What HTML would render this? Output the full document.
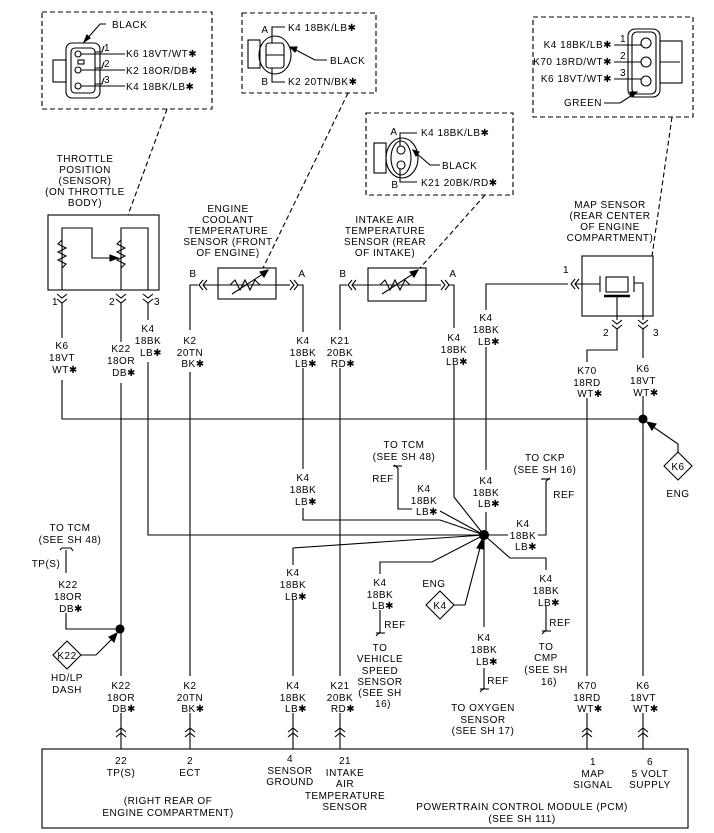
<!DOCTYPE html>
<html><head><meta charset="utf-8"><style>
html,body{margin:0;padding:0;background:#fff}
svg{display:block}
text{font-family:"Liberation Sans",sans-serif;font-size:10px;fill:#000;text-anchor:middle;letter-spacing:0.5px}
.l{text-anchor:start}.r{text-anchor:end}
</style></head><body>
<svg width="714" height="833" viewBox="0 0 714 833" xmlns="http://www.w3.org/2000/svg" fill="none" stroke="#000" stroke-width="1.1">
<g stroke-dasharray="5,3">
<rect x="42" y="12" width="170" height="97"/>
<rect x="242" y="13" width="134" height="80"/>
<rect x="366" y="113" width="147" height="82"/>
<rect x="533" y="17" width="160" height="100"/>
<line x1="167" y1="109" x2="128" y2="215"/>
<line x1="348" y1="93" x2="263" y2="268"/>
<line x1="485" y1="195" x2="420" y2="268"/>
<line x1="672" y1="117" x2="652" y2="256"/>
</g>
<rect x="66" y="43" width="34" height="55" rx="6"/>
<rect x="71" y="48" width="24" height="45" rx="4"/>
<rect x="53" y="60" width="13" height="22"/>
<circle cx="78" cy="54" r="3"/><circle cx="78" cy="70" r="3"/><circle cx="78" cy="86" r="3"/>
<rect x="78" y="60" width="6" height="4"/>
<polyline points="106,24 100,24 86,40"/><polygon points="84,42 87,35 90,38" fill="#000"/>
<line x1="81" y1="54" x2="125" y2="54"/><line x1="81" y1="70" x2="125" y2="70"/><line x1="81" y1="86" x2="125" y2="86"/>
<polyline points="95,52 102,52 104,46"/><polyline points="95,68 102,68 104,62"/><polyline points="95,84 102,84 104,78"/>
<rect x="248" y="40" width="12" height="28"/>
<ellipse cx="275" cy="55" rx="16" ry="19"/>
<rect x="266" y="43" width="18" height="25" rx="3"/>
<line x1="266" y1="55" x2="284" y2="55"/>
<polyline points="272,43 272,27 285,27"/><polyline points="272,68 272,82 285,82"/>
<polyline points="327,60 315,60 292,48"/><polygon points="290,47 297,47 295,52" fill="#000"/>
<rect x="374" y="143" width="12" height="30"/>
<ellipse cx="402" cy="158" rx="16" ry="20"/>
<ellipse cx="401" cy="158" rx="10" ry="17"/>
<circle cx="401" cy="150" r="4"/><circle cx="401" cy="165" r="4"/>
<polyline points="400,146 400,133 417,133"/><polyline points="400,169 400,182 417,182"/>
<polyline points="440,165 430,165 415,152"/><polygon points="413,150 419,152 416,156" fill="#000"/>
<rect x="628" y="29" width="32" height="68" rx="7"/>
<rect x="632" y="32" width="24" height="62" rx="5"/>
<rect x="660" y="41" width="22" height="42"/>
<line x1="660" y1="62" x2="680" y2="62"/>
<circle cx="646" cy="43" r="5"/><circle cx="646" cy="62" r="5"/><circle cx="646" cy="81" r="5"/>
<line x1="614" y1="45" x2="641" y2="45"/><line x1="614" y1="62" x2="641" y2="62"/><line x1="614" y1="79" x2="641" y2="79"/>
<polyline points="604,103 620,103 634,94"/><polygon points="637,92 630,92 632,97" fill="#000"/>

<rect x="48" y="215" width="111" height="75"/>
<polyline points="62,290 62,228 92,228 92,258 112,258"/>
<polygon points="118,258 110,255 110,261" fill="#000"/>
<polyline points="62,240 58,244 66,248 58,252 66,256 58,260 66,264 62,268"/>
<polyline points="121,240 117,244 125,248 117,252 125,256 117,260 125,264 121,268"/>
<polyline points="121,290 121,228 148,228 148,290"/>
<g>
<polyline points="57,294 62,298 67,294"/><polyline points="57,299 62,303 67,299"/>
<polyline points="116,294 121,298 126,294"/><polyline points="116,299 121,303 126,299"/>
<polyline points="143,294 148,298 153,294"/><polyline points="143,299 148,303 153,299"/>
</g>
<rect x="218" y="268" width="58" height="31"/>
<polyline points="190,330 190,285 198,285"/><polyline points="203,280 199,285 203,290"/><polyline points="207,280 203,285 207,290"/>
<line x1="203" y1="285" x2="276" y2="285"/>
<polyline points="230,285 235,280 240,290 245,280 250,290 255,280 260,285"/>
<line x1="232" y1="294" x2="266" y2="272"/><polygon points="268,270 260,272 264,277" fill="#000"/>
<line x1="276" y1="285" x2="290" y2="285"/><polyline points="290,280 294,285 290,290"/><polyline points="294,280 298,285 294,290"/>
<polyline points="298,285 303,285 303,332"/>
<rect x="368" y="268" width="58" height="33"/>
<polyline points="340,330 340,285 347,285"/><polyline points="352,280 348,285 352,290"/><polyline points="356,280 352,285 356,290"/>
<line x1="352" y1="285" x2="426" y2="285"/>
<polyline points="380,285 385,280 390,290 395,280 400,290 405,280 410,285"/>
<line x1="382" y1="294" x2="416" y2="272"/><polygon points="418,270 410,272 414,277" fill="#000"/>
<line x1="426" y1="285" x2="441" y2="285"/><polyline points="441,280 445,285 441,290"/><polyline points="445,280 449,285 445,290"/>
<polyline points="449,285 454,285 454,328"/>
<rect x="582" y="256" width="71" height="60"/>
<polyline points="486,310 486,284 568,284"/><polyline points="575,279 571,284 575,289"/><polyline points="579,279 575,284 579,289"/>
<line x1="575" y1="284" x2="600" y2="284"/>
<line x1="600" y1="276" x2="600" y2="292"/>
<rect x="606" y="277" width="22" height="15"/>
<line x1="604" y1="296" x2="630" y2="296" stroke-width="2.5"/>
<line x1="634" y1="276" x2="634" y2="292"/>
<polyline points="634,283 643,283 643,320"/>
<polyline points="617,296 617,320"/>
<polyline points="612,320 617,324 622,320"/><polyline points="612,325 617,329 622,325"/>
<polyline points="638,320 643,324 648,320"/><polyline points="638,325 643,329 648,325"/>
<polyline points="617,329 617,350 587,350 587,362"/>
<line x1="643" y1="329" x2="643" y2="358"/>

<line x1="62" y1="303" x2="62" y2="338"/><polyline points="62,380 62,419 643,419"/>
<line x1="121" y1="303" x2="121" y2="342"/><line x1="121" y1="383" x2="121" y2="676"/>
<line x1="148" y1="303" x2="148" y2="320"/><polyline points="148,362 148,535 484,535"/>
<line x1="190" y1="372" x2="190" y2="676"/>
<polyline points="303,368 303,469"/><polyline points="303,508 303,520 440,520 484,535"/>
<line x1="340" y1="368" x2="340" y2="676"/>
<polyline points="454,365 454,497 484,535"/>
<polyline points="486,347 486,470"/><line x1="486" y1="512" x2="486" y2="535"/>
<line x1="587" y1="398" x2="587" y2="676"/>
<line x1="643" y1="396" x2="643" y2="676"/>
<circle cx="643" cy="419" r="4" fill="#000"/>
<circle cx="484" cy="535" r="4.5" fill="#000"/>
<circle cx="120" cy="629" r="4" fill="#000"/>
<polygon points="678,452 692,466 678,480 664,466"/>
<polyline points="678,452 678,444 652,426"/><polygon points="647,422 656,424 652,430" fill="#000"/>
<!-- K22 left -->
<polygon points="67,641 81,655 67,669 53,655"/>
<polyline points="81,655 96,655 113,638"/><polygon points="117,633 109,637 114,642" fill="#000"/>
<polyline points="66,613 66,629 120,629"/>
<line x1="66" y1="550" x2="66" y2="573"/>
<polyline points="60,550 62,548 71,548 73,551"/>
<!-- splice branches -->
<polyline points="398,468 398,509 412,509"/><polyline points="440,511 484,535"/>
<polyline points="484,535 508,535"/><polyline points="538,535 546,535 546,481"/>
<polyline points="484,535 293,548 293,565"/><line x1="293" y1="600" x2="293" y2="676"/>
<polyline points="484,535 432,562 380,562 380,574"/>
<polyline points="484,535 510,558 546,558 546,570"/>
<line x1="484" y1="535" x2="484" y2="627"/>
<polygon points="440,591 454,605 440,619 426,605"/>
<polyline points="454,605 465,605 481,544"/><polygon points="483,538 477,548 484,549" fill="#000"/>
<polyline points="380,610 380,632 376,636"/><line x1="376" y1="633" x2="385" y2="633"/>
<polyline points="546,606 546,630 542,634"/><line x1="542" y1="631" x2="551" y2="631"/>
<polyline points="484,668 484,688 480,692"/><line x1="480" y1="689" x2="489" y2="689"/>
<polyline points="398,468 394,465"/><line x1="393" y1="466" x2="402" y2="466"/>
<polyline points="546,481 550,478"/><line x1="541" y1="479" x2="550" y2="479"/>
<line x1="121" y1="713" x2="121" y2="749"/>
<line x1="190" y1="713" x2="190" y2="749"/>
<line x1="293" y1="713" x2="293" y2="749"/>
<line x1="340" y1="713" x2="340" y2="749"/>
<line x1="587" y1="713" x2="587" y2="749"/>
<line x1="643" y1="713" x2="643" y2="749"/>
<g>
<polyline points="116,732 121,728 126,732"/><polyline points="116,737 121,733 126,737"/>
<polyline points="185,732 190,728 195,732"/><polyline points="185,737 190,733 195,737"/>
<polyline points="288,732 293,728 298,732"/><polyline points="288,737 293,733 298,737"/>
<polyline points="335,732 340,728 345,732"/><polyline points="335,737 340,733 345,737"/>
<polyline points="582,732 587,728 592,732"/><polyline points="582,737 587,733 592,737"/>
<polyline points="638,732 643,728 648,732"/><polyline points="638,737 643,733 648,737"/>
</g>
<rect x="42" y="749" width="646" height="79"/>

<g stroke="none">
<text class="l" x="112" y="28">BLACK</text>
<text class="l" x="104" y="51">1</text><text class="l" x="104" y="67">2</text><text class="l" x="104" y="83">3</text>
<text class="l" x="126" y="57">K6 18VT/WT✱</text>
<text class="l" x="126" y="74">K2 18OR/DB✱</text>
<text class="l" x="126" y="90">K4 18BK/LB✱</text>
<text x="265" y="33">A</text><text class="l" x="288" y="31">K4 18BK/LB✱</text>
<text class="l" x="330" y="64">BLACK</text>
<text x="265" y="85">B</text><text class="l" x="288" y="85">K2 20TN/BK✱</text>
<text x="394" y="135">A</text><text class="l" x="421" y="136">K4 18BK/LB✱</text>
<text class="l" x="442" y="169">BLACK</text>
<text x="395" y="188">B</text><text class="l" x="421" y="186">K21 20BK/RD✱</text>
<text class="r" x="612" y="48">K4 18BK/LB✱</text><text x="623" y="42">1</text>
<text class="r" x="612" y="65">K70 18RD/WT✱</text><text x="623" y="59">2</text>
<text class="r" x="612" y="82">K6 18VT/WT✱</text><text x="623" y="76">3</text>
<text class="r" x="602" y="106">GREEN</text>
<text x="85" y="162">THROTTLE</text><text x="85" y="173">POSITION</text><text x="85" y="184">(SENSOR)</text><text x="85" y="195">(ON THROTTLE</text><text x="85" y="206">BODY)</text>
<text x="228" y="212">ENGINE</text><text x="228" y="223">COOLANT</text><text x="228" y="234">TEMPERATURE</text><text x="228" y="245">SENSOR (FRONT</text><text x="228" y="256">OF ENGINE)</text>
<text x="385" y="223">INTAKE AIR</text><text x="385" y="234">TEMPERATURE</text><text x="385" y="245">SENSOR (REAR</text><text x="385" y="256">OF INTAKE)</text>
<text x="610" y="208">MAP SENSOR</text><text x="610" y="219">(REAR CENTER</text><text x="610" y="230">OF ENGINE</text><text x="610" y="241">COMPARTMENT)</text>
<text x="193" y="277">B</text><text x="302" y="277">A</text><text x="343" y="277">B</text><text x="453" y="277">A</text>
<text x="566" y="273">1</text><text x="606" y="336">2</text><text x="656" y="336">3</text>
<text x="55" y="305">1</text><text x="112" y="305">2</text><text x="157" y="305">3</text>
<text x="62" y="349">K6</text><text x="62" y="361">18VT</text><text x="65" y="373">WT✱</text>
<text x="121" y="352">K22</text><text x="121" y="364">18OR</text><text x="124" y="376">DB✱</text>
<text x="148" y="332">K4</text><text x="148" y="344">18BK</text><text x="151" y="356">LB✱</text>
<text x="190" y="344">K2</text><text x="190" y="356">20TN</text><text x="193" y="367">BK✱</text>
<text x="303" y="344">K4</text><text x="303" y="356">18BK</text><text x="306" y="367">LB✱</text>
<text x="340" y="344">K21</text><text x="340" y="356">20BK</text><text x="343" y="367">RD✱</text>
<text x="454" y="341">K4</text><text x="454" y="353">18BK</text><text x="457" y="365">LB✱</text>
<text x="486" y="321">K4</text><text x="486" y="333">18BK</text><text x="489" y="345">LB✱</text>
<text x="587" y="374">K70</text><text x="587" y="386">18RD</text><text x="590" y="397">WT✱</text>
<text x="643" y="372">K6</text><text x="643" y="384">18VT</text><text x="646" y="396">WT✱</text>
<text x="678" y="470">K6</text><text x="678" y="497">ENG</text>
<text x="303" y="481">K4</text><text x="303" y="493">18BK</text><text x="306" y="505">LB✱</text>
<text x="404" y="448">TO TCM</text><text x="404" y="460">(SEE SH 48)</text>
<text x="383" y="482">REF</text>
<text x="424" y="492">K4</text><text x="424" y="504">18BK</text><text x="427" y="515">LB✱</text>
<text x="486" y="484">K4</text><text x="486" y="496">18BK</text><text x="489" y="507">LB✱</text>
<text x="545" y="461">TO CKP</text><text x="545" y="473">(SEE SH 16)</text>
<text x="564" y="498">REF</text>
<text x="523" y="527">K4</text><text x="523" y="539">18BK</text><text x="526" y="550">LB✱</text>
<text x="293" y="576">K4</text><text x="293" y="588">18BK</text><text x="296" y="600">LB✱</text>
<text x="380" y="586">K4</text><text x="380" y="598">18BK</text><text x="383" y="609">LB✱</text>
<text x="395" y="628">REF</text>
<text x="380" y="651">TO</text><text x="380" y="662">VEHICLE</text><text x="380" y="674">SPEED</text><text x="380" y="685">SENSOR</text><text x="380" y="696">(SEE SH</text><text x="383" y="707">16)</text>
<text x="434" y="587">ENG</text><text x="440" y="609">K4</text>
<text x="546" y="582">K4</text><text x="546" y="594">18BK</text><text x="549" y="606">LB✱</text>
<text x="560" y="626">REF</text>
<text x="546" y="650">TO</text><text x="546" y="661">CMP</text><text x="546" y="673">(SEE SH</text><text x="549" y="685">16)</text>
<text x="484" y="641">K4</text><text x="484" y="653">18BK</text><text x="487" y="665">LB✱</text>
<text x="498" y="684">REF</text>
<text x="483" y="711">TO OXYGEN</text><text x="483" y="723">SENSOR</text><text x="483" y="734">(SEE SH 17)</text>
<text x="70" y="531">TO TCM</text><text x="70" y="543">(SEE SH 48)</text>
<text x="46" y="567">TP(S)</text>
<text x="68" y="588">K22</text><text x="68" y="600">18OR</text><text x="71" y="612">DB✱</text>
<text x="67" y="659">K22</text>
<text x="67" y="681">HD/LP</text><text x="67" y="693">DASH</text>
<text x="121" y="689">K22</text><text x="121" y="701">18OR</text><text x="124" y="712">DB✱</text>
<text x="190" y="689">K2</text><text x="190" y="701">20TN</text><text x="193" y="712">BK✱</text>
<text x="293" y="689">K4</text><text x="293" y="701">18BK</text><text x="296" y="712">LB✱</text>
<text x="340" y="689">K21</text><text x="340" y="701">20BK</text><text x="343" y="712">RD✱</text>
<text x="587" y="689">K70</text><text x="587" y="701">18RD</text><text x="590" y="712">WT✱</text>
<text x="643" y="689">K6</text><text x="643" y="701">18VT</text><text x="646" y="712">WT✱</text>
<text x="121" y="764">22</text><text x="121" y="776">TP(S)</text>
<text x="190" y="764">2</text><text x="190" y="776">ECT</text>
<text x="290" y="762">4</text><text x="290" y="774">SENSOR</text><text x="290" y="785">GROUND</text>
<text x="345" y="764">21</text><text x="345" y="776">INTAKE</text><text x="345" y="787">AIR</text><text x="345" y="799">TEMPERATURE</text><text x="345" y="810">SENSOR</text>
<text x="593" y="765">1</text><text x="593" y="777">MAP</text><text x="593" y="788">SIGNAL</text>
<text x="650" y="765">6</text><text x="650" y="777">5 VOLT</text><text x="650" y="788">SUPPLY</text>
<text x="168" y="804">(RIGHT REAR OF</text><text x="168" y="816">ENGINE COMPARTMENT)</text>
<text x="522" y="810">POWERTRAIN CONTROL MODULE (PCM)</text><text x="522" y="822">(SEE SH 111)</text>
</g>
</svg>
</body></html>
